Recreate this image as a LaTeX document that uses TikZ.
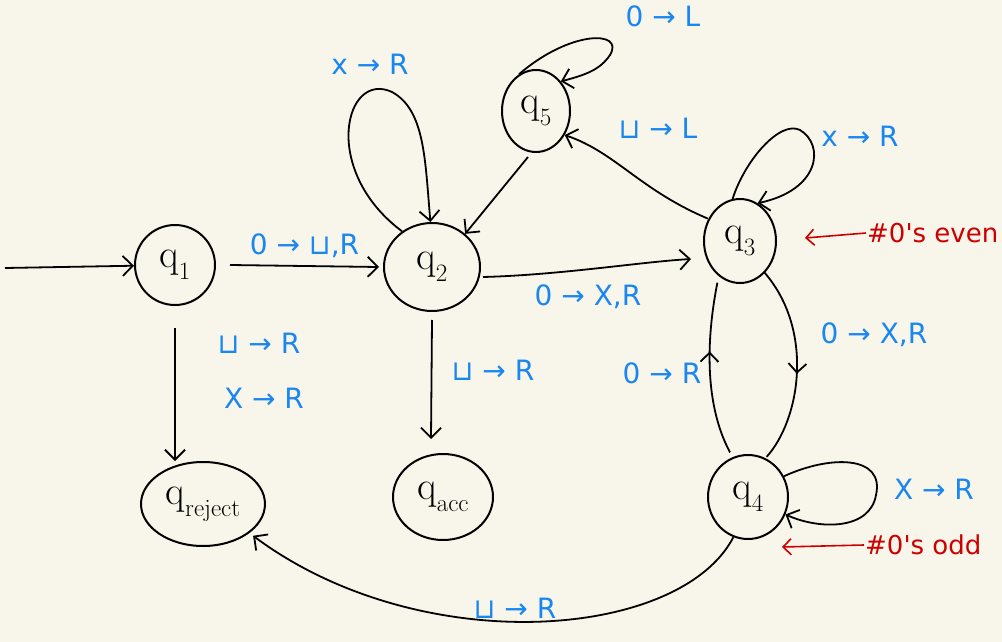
\documentclass[tikz,border=0pt]{standalone}
\usepackage{fontspec}
\newfontfamily\lab{DejaVu Sans}
\usetikzlibrary{shapes.geometric,arrows.meta,decorations.markings}
\definecolor{bg}{HTML}{F8F6EA}
\definecolor{lblue}{HTML}{1A86F0}
\definecolor{dred}{HTML}{CC0000}
\newcommand{\qsub}[1]{q\raisebox{-0.3em}{\fontsize{25}{27}\selectfont #1}}
\tikzset{
  state/.style={ellipse,draw,line width=2pt,inner sep=0pt,font=\fontsize{40}{44}\selectfont},
  edge/.style={line width=1.8pt,-{Straight Barb[length=10pt,width=20pt,line width=1.8pt]}},
  plain/.style={line width=1.8pt},
  midarrow/.style={postaction={decorate},decoration={markings,
      mark=at position #1 with {\arrow{Straight Barb[length=9pt,width=18pt,line width=1.8pt]}}}},
  lbl/.style={text=lblue,font=\lab\fontsize{28}{32}\selectfont,inner sep=1pt},
  note/.style={text=dred,font=\lab\fontsize{26}{30}\selectfont,inner sep=1pt},
  notearrow/.style={dred,line width=1.6pt,-{Straight Barb[length=8pt,width=16pt,line width=1.6pt]}},
}
\begin{document}
\begin{tikzpicture}[x=1pt,y=-1pt]
\fill[bg] (0,0) rectangle (1002,642);
\useasboundingbox (0,0) rectangle (1002,642);

% states
\node[state,minimum width=80pt,minimum height=80pt] (q1) at (175,265) {\qsub{1}};
\node[state,minimum width=96pt,minimum height=88pt] (q2) at (432,267) {\qsub{2}};
\node[state,minimum width=68pt,minimum height=82pt] (q5) at (536,111) {\qsub{5}};
\node[state,minimum width=72pt,minimum height=84pt] (q3) at (740,241) {\qsub{3}};
\node[state,minimum width=80pt,minimum height=84pt] (q4) at (748,497) {\qsub{4}};
\node[state,minimum width=124pt,minimum height=84pt] (qr) at (203,504) {\qsub{reject}};
\node[state,minimum width=100pt,minimum height=86pt] (qa) at (443,497) {\qsub{acc}};

% start arrow
\coordinate (start) at (5,268);
\draw[edge] (start) -- (q1);

% q1 -> q2
\draw[edge] ([xshift=14pt]q1.east) -- ([xshift=-4pt]q2.west) node[lbl,midway,above=6pt] {0 → ⊔,R};
% q1 -> qreject
\draw[edge] ([yshift=-22pt]q1.south) -- (qr.north -| q1.south) ;
\node[lbl] (l1a) at (259,343) {⊔ → R};
\node[lbl] (l1b) at (264,398) {X → R};

% q2 -> q3
\draw[edge] ([xshift=2pt,yshift=-10pt]q2.east) .. controls (560,275) and (640,262) .. ([xshift=-12pt,yshift=-18pt]q3.west);
\node[lbl] (l23) at (588,297) {0 → X,R};

% q2 -> qacc
\draw[edge] ([yshift=-8pt]q2.south) -- ([yshift=14pt,xshift=-12pt]qa.north);
\node[lbl] (l2a) at (493,370) {⊔ → R};

% q2 loop
\draw[edge] (q2.130) .. controls (320,170) and (345,70) .. (392,92) .. controls (425,110) and (425,160) .. (q2.92);
\node[lbl] (l22) at (370,64) {x → R};

% q5 -> q2
\draw[edge] ([xshift=-8pt,yshift=-4pt]q5.south) -- (q2.45);

% q3 -> q5
\draw[edge] ([xshift=-6pt,yshift=-8pt]q3.north west) .. controls (640,190) and (615,152) .. (q5.-40);
\node[lbl] (l35) at (658,128) {⊔ → L};

% q5 loop
\draw[edge] (q5.115) .. controls (570,30) and (625,30) .. (610,55) .. controls (600,70) and (585,75) .. (q5.50);
\node[lbl] (l55) at (663,16) {0 → L};

% q3 loop
\draw[edge] (q3.100) .. controls (745,160) and (780,120) .. (800,130) .. controls (825,145) and (820,190) .. (q3.65);
\node[lbl] (l33) at (860,136) {x → R};

% q3 -> q4 (right)
\draw[plain,midarrow=0.55] ([xshift=-2pt]q3.-50) .. controls (815,330) and (800,420) .. ([xshift=4pt]q4.70);
\node[lbl] (l34) at (874,335) {0 → X,R};

% q4 -> q3 (left)
\draw[plain,midarrow=0.6] ([yshift=6pt]q4.115) .. controls (702,400) and (708,330) .. ([xshift=-2pt,yshift=-6pt]q3.-120);
\node[lbl] (l43) at (662,373) {0 → R};

% q4 loop
\draw[edge] (q4.30) .. controls (830,455) and (885,455) .. (876,495) .. controls (870,530) and (820,530) .. (q4.-25);
\node[lbl] (l44) at (934,489) {X → R};

% q4 -> qreject
\draw[edge] (q4.-110) .. controls (680,640) and (420,660) .. ([xshift=2pt,yshift=-4pt]qr.-30);
\node[lbl] (l4r) at (515,608) {⊔ → R};

% notes
\node[note,anchor=west] (even) at (866,233) {\#0's even};
\coordinate (evenpt) at (805,238);
\draw[notearrow] (even.west) -- (evenpt);
\node[note,anchor=west] (odd) at (864,545) {\#0's odd};
\coordinate (oddpt) at (782,547);
\draw[notearrow] (odd.west) -- (oddpt);
\end{tikzpicture}
\end{document}
